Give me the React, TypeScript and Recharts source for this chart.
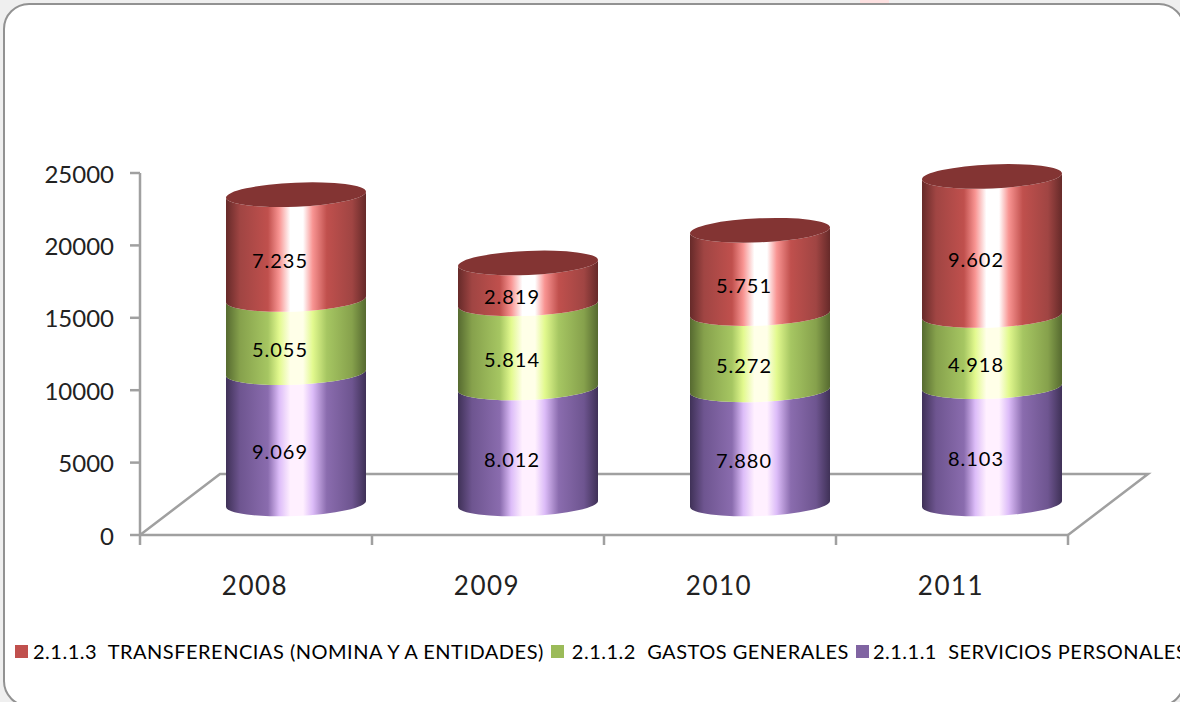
import { BarChart, Bar, XAxis, YAxis, Legend, LabelList, usePlotArea } from "recharts";

const years = ["2008", "2009", "2010", "2011"];
const servicios = [9069, 8012, 7880, 8103];
const gastos = [5055, 5814, 5272, 4918];
const transferencias = [7235, 2819, 5751, 9602];
const yTicks = [0, 5000, 10000, 15000, 20000, 25000];

const rows = years.map((year, i) => ({
  year,
  servicios: servicios[i],
  gastos: gastos[i],
  transferencias: transferencias[i],
}));

const FONT = "Lato, sans-serif";
const TEXT = "#222";
const AXIS = "#a0a0a0";

// 3D look: cylinders sit back from the axis by this much
const DEPTH_X = 40;
const DEPTH_Y = -31;
const FLOOR_X = 80;
const FLOOR_Y = -61;
const TILT = 3;
const RY = 12;

const fmt = (v: number) => `${Math.floor(v / 1000)}.${String(v % 1000).padStart(3, "0")}`;

function shade(id: string, edge: string, dark: string, base: string, glow: string, white: string) {
  return (
    <linearGradient id={id} x1="0" y1="0" x2="1" y2="0">
      <stop offset="0" stopColor={edge} />
      <stop offset="0.1" stopColor={dark} />
      <stop offset="0.3" stopColor={base} />
      <stop offset="0.38" stopColor={glow} />
      <stop offset="0.46" stopColor={white} />
      <stop offset="0.55" stopColor={white} />
      <stop offset="0.62" stopColor={glow} />
      <stop offset="0.72" stopColor={base} />
      <stop offset="0.9" stopColor={dark} />
      <stop offset="1" stopColor={edge} />
    </linearGradient>
  );
}

function Cylinder(props: any) {
  const { x, y, width, height, fill, cap } = props;
  const l = x + DEPTH_X;
  const r = l + width;
  const top = y + DEPTH_Y;
  const bot = top + height;
  const rx = Math.hypot(width / 2, TILT);
  const rot = (-Math.atan2(TILT, width / 2) * 180) / Math.PI;
  const arc = `${rx} ${RY} ${rot}`;
  return (
    <g>
      <path
        d={`M${l} ${top + TILT} A${arc} 0 0 ${r} ${top - TILT} L${r} ${bot - TILT} A${arc} 0 1 ${l} ${bot + TILT} Z`}
        fill={fill}
      />
      {cap && (
        <path
          d={`M${l} ${top + TILT} A${arc} 0 0 ${r} ${top - TILT} A${arc} 0 0 ${l} ${top + TILT} Z`}
          fill="#833433"
        />
      )}
    </g>
  );
}

function BarLabel(props: any) {
  const { x, y, width, height, value } = props;
  return (
    <text
      x={x + width / 2 + 24}
      y={y + height / 2 - 18}
      textAnchor="middle"
      dominantBaseline="central"
      fontFamily={FONT}
      fontSize={20}
      letterSpacing={1}
      fill="#000"
    >
      {fmt(value)}
    </text>
  );
}

function Floor() {
  const plot = usePlotArea();
  if (!plot) return null;
  const { x, y, width, height } = plot;
  const base = y + height;
  const band = width / years.length;
  const ticks = [0, 1, 2, 3, 4].map((i) => `M${x + band * i} ${base} v10`).join(" ");
  return (
    <path
      d={`M${x} ${base} l${FLOOR_X} ${FLOOR_Y} h${width} l${-FLOOR_X} ${-FLOOR_Y} ${ticks}`}
      fill="none"
      stroke={AXIS}
      strokeWidth={2.5}
    />
  );
}

function LegendRow({ payload }: any) {
  const items = [...(payload || [])].reverse();
  const marks = ["#c0504d", "#9bbb59", "#8064a2"];
  const gaps = [5, 8, 4];
  return (
    <div style={{ display: "flex", whiteSpace: "pre", overflow: "hidden", width: 1180, fontFamily: FONT, fontSize: 20, letterSpacing: 0.5, color: "#000", lineHeight: "30px" }}>
      {items.map((it: any, i: number) => (
        <span key={it.value} style={{ display: "flex", flexShrink: 0, alignItems: "center", marginLeft: i === 0 ? 15 : 7 }}>
          <span style={{ width: 13, height: 13, background: marks[i], marginRight: gaps[i] }} />
          {it.value}
        </span>
      ))}
    </div>
  );
}

export default function App() {
  return (
    <div style={{ position: "absolute", left: 0, top: 0, width: 1180, height: 702, overflow: "hidden", background: "#efefef" }}>
      <div style={{ position: "absolute", left: 860, top: 0, width: 29, height: 3, background: "#fde0e0" }} />
      <div style={{ position: "absolute", left: 3, top: 3, width: 1178, height: 700, border: "2px solid #929292", borderRadius: 26, background: "#fff" }} />
      <div style={{ position: "absolute", left: 0, top: 0 }}>
        <BarChart
          width={1180}
          height={702}
          data={rows}
          barSize={140}
          margin={{ top: 173, right: 112, left: 80, bottom: 36 }}
          style={{ overflow: "visible" }}
        >
          <defs>
            {shade("redFill", "#662a29", "#a04543", "#c0504d", "#f89492", "#ffffff")}
            {shade("greenFill", "#566a30", "#86a14c", "#a6c662", "#e2f98e", "#ffffe8")}
            {shade("purpleFill", "#3f3157", "#6e5590", "#8a6cae", "#dcbcf8", "#fff0ff")}
          </defs>
          <Floor />
          <XAxis
            dataKey="year"
            height={101}
            axisLine={{ stroke: AXIS, strokeWidth: 2.5 }}
            tickLine={false}
            tickMargin={36}
            tick={{ fontFamily: FONT, fontSize: 26, letterSpacing: 1.5, dx: -1, fill: TEXT }}
          />
          <YAxis
            width={60}
            domain={[0, 25000]}
            ticks={yTicks}
            interval={0}
            axisLine={{ stroke: AXIS, strokeWidth: 2.5 }}
            tickLine={{ stroke: AXIS, strokeWidth: 2.5 }}
            tickSize={10}
            tickMargin={16}
            tick={{ fontFamily: FONT, fontSize: 24, dy: 1, fill: TEXT }}
          />
          <Legend
            verticalAlign="bottom"
            height={30}
            content={LegendRow}
            wrapperStyle={{ left: 0, width: 1180 }}
          />
          <Bar
            dataKey="servicios"
            name="2.1.1.1  SERVICIOS PERSONALES"
            stackId="a"
            fill="url(#purpleFill)"
            shape={<Cylinder />}
            isAnimationActive={false}
          >
            <LabelList dataKey="servicios" content={BarLabel} />
          </Bar>
          <Bar
            dataKey="gastos"
            name="2.1.1.2  GASTOS GENERALES"
            stackId="a"
            fill="url(#greenFill)"
            shape={<Cylinder />}
            isAnimationActive={false}
          >
            <LabelList dataKey="gastos" content={BarLabel} />
          </Bar>
          <Bar
            dataKey="transferencias"
            name="2.1.1.3  TRANSFERENCIAS (NOMINA Y A ENTIDADES)"
            stackId="a"
            fill="url(#redFill)"
            shape={<Cylinder cap />}
            isAnimationActive={false}
          >
            <LabelList dataKey="transferencias" content={BarLabel} />
          </Bar>
        </BarChart>
      </div>
    </div>
  );
}
